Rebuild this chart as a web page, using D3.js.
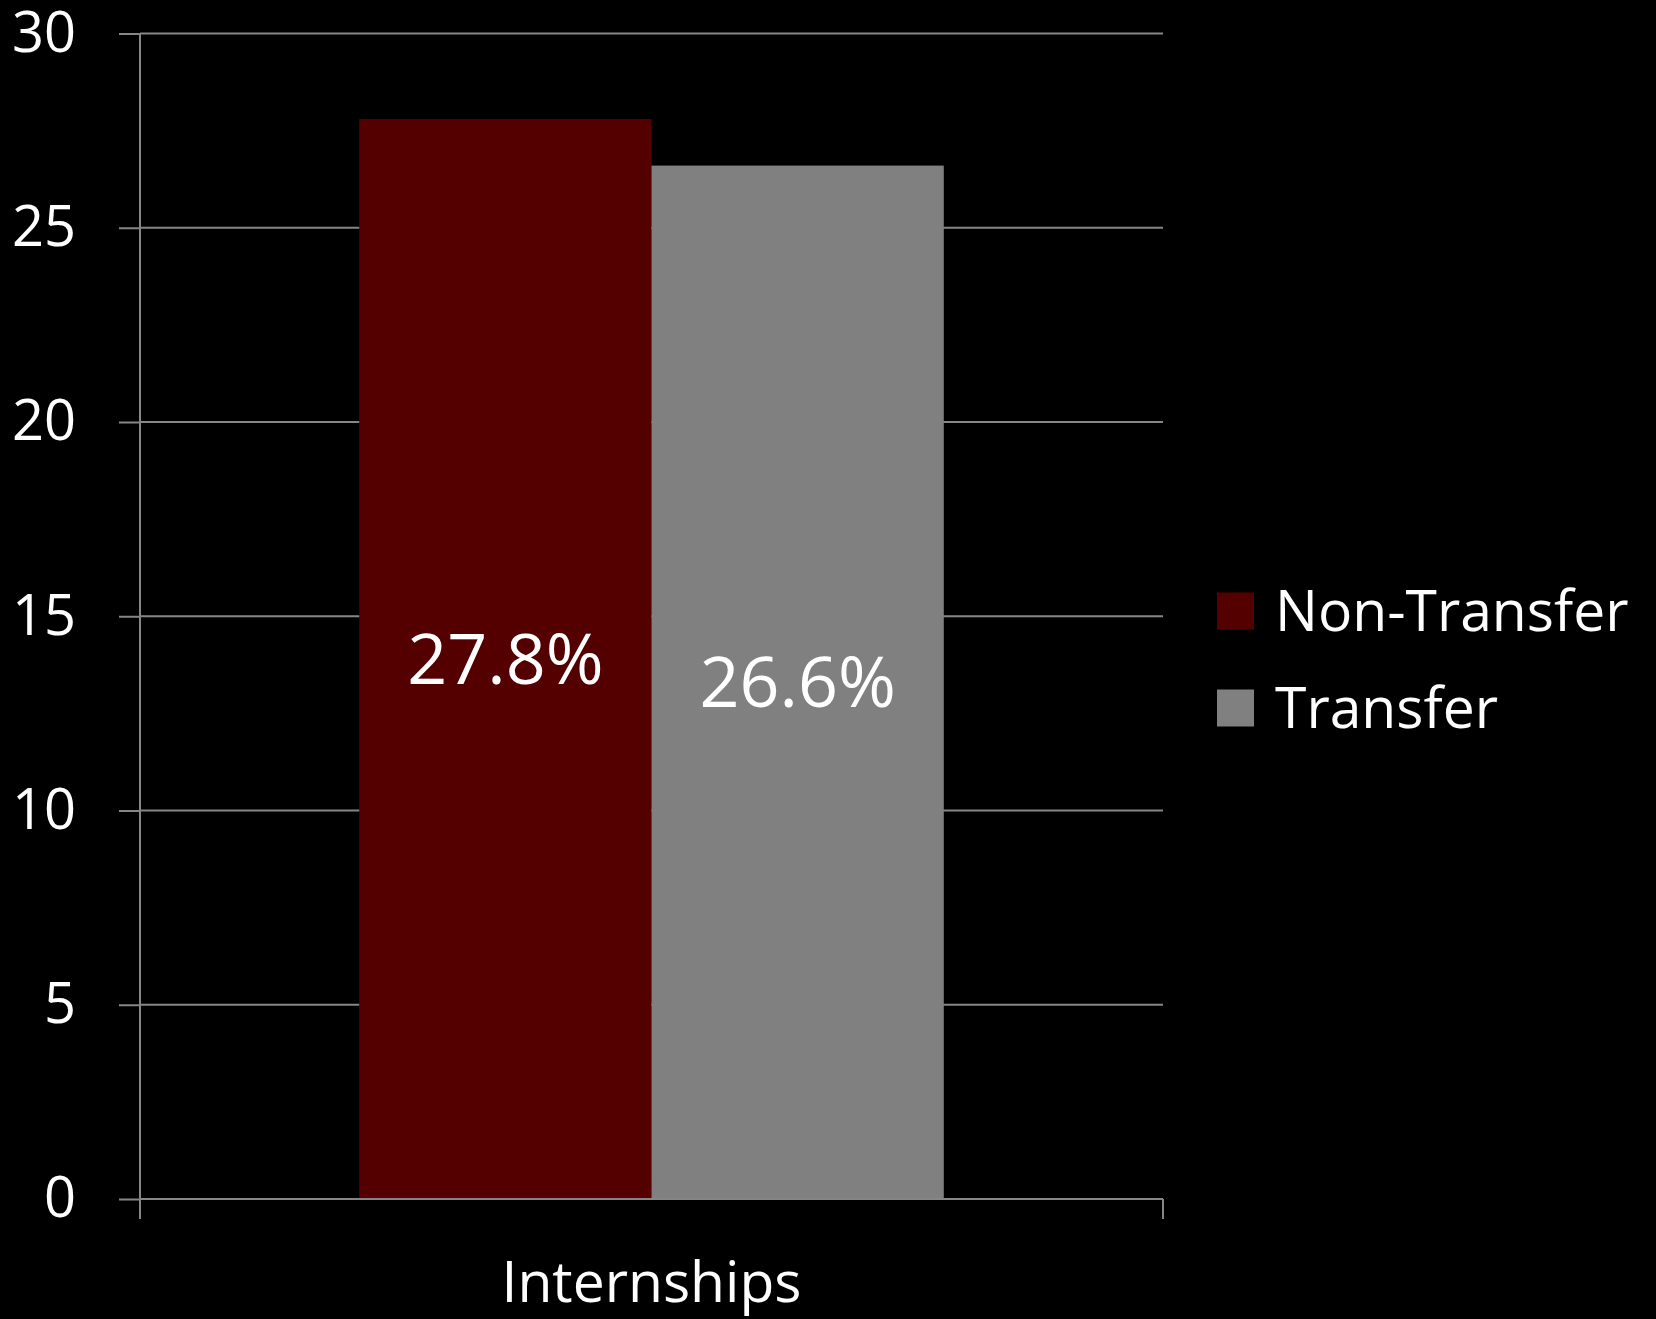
<!DOCTYPE html>
<meta charset="utf-8">
<style>
 body {
     margin: 0;
     background: #000;
     font-family: 'Open Sans', 'Noto Sans', sans-serif;
 }
 .grid line {
     stroke: #868686;
     stroke-width: 2;
 }
 .axis path,
 .axis line {
     fill: none;
     stroke: #868686;
     stroke-width: 2;
 }
 .axis text {
     fill: #fff;
 }
</style>
<body>
<script src="https://cdn.jsdelivr.net/npm/d3@7"></script>
<script>

 var categories = ["Internships"];
 var seriesNames = ["Non-Transfer", "Transfer"];
 var seriesValues = [27.8, 26.6];
 var valueLabels = ["27.8%", "26.6%"];
 var seriesColors = ["#550000", "#808080"];
 var yTicks = [0, 5, 10, 15, 20, 25, 30];

 var margin = {top: 33.5, right: 493, bottom: 120, left: 140},
     width = 1656 - margin.left - margin.right,
     height = 1319 - margin.top - margin.bottom;

 var svg = d3.select("body").append("svg")
             .attr("width", 1656)
             .attr("height", 1319)
             .append("g")
             .attr("transform", "translate(" + margin.left + "," + margin.top + ")");

 var yScale = d3.scaleLinear()
                .domain([0, 30])
                .range([height, 0]);

 var x0 = d3.scaleBand()
            .domain(categories)
            .range([0, width])
            .padding(0);

 // gap width 150% -> outer padding of 0.75 bar on each side
 var x1 = d3.scaleBand()
            .domain(seriesNames)
            .range([0, x0.bandwidth()])
            .paddingInner(0)
            .paddingOuter(0.75);

 // gridlines
 svg.append("g")
    .attr("class", "grid")
    .selectAll("line")
    .data(yTicks)
    .enter()
    .append("line")
    .attr("x1", 0)
    .attr("x2", width)
    .attr("y1", d => yScale(d))
    .attr("y2", d => yScale(d));

 // bars
 var rows = seriesNames.map((s, i) => ({name: s, value: seriesValues[i], label: valueLabels[i], color: seriesColors[i]}));

 var group = svg.append("g")
                .attr("transform", "translate(" + x0(categories[0]) + ",0)");

 group.selectAll("rect")
      .data(rows)
      .enter()
      .append("rect")
      .attr("x", d => x1(d.name))
      .attr("y", d => yScale(d.value))
      .attr("width", x1.bandwidth())
      .attr("height", d => height - yScale(d.value))
      .attr("fill", d => d.color);

 group.selectAll(".value-label")
      .data(rows)
      .enter()
      .append("text")
      .attr("class", "value-label")
      .attr("x", d => x1(d.name) + x1.bandwidth() / 2)
      .attr("y", d => (yScale(d.value) + height) / 2)
      .attr("dy", "0.36em")
      .attr("text-anchor", "middle")
      .attr("fill", "#fff")
      .attr("font-size", "70px")
      .text(d => d.label);

 // y axis
 var yAxis = d3.axisLeft(yScale)
               .tickValues(yTicks)
               .tickSize(21)
               .tickPadding(43);

 svg.append("g")
    .attr("class", "axis")
    .call(yAxis)
    .call(g => g.select(".domain").attr("d", "M0,0V" + (height + 20)))
    .selectAll("text")
    .attr("font-size", "56px")
    .attr("font-family", "'Open Sans', sans-serif");

 // x axis: category boundary ticks
 var xAxisG = svg.append("g")
                 .attr("class", "axis")
                 .attr("transform", "translate(0," + height + ")");

 xAxisG.append("path")
       .attr("d", "M0,0H" + width);

 var bounds = [0].concat(categories.map(c => x0(c) + x0.bandwidth()));
 xAxisG.selectAll(".btick")
       .data(bounds)
       .enter()
       .append("line")
       .attr("class", "btick")
       .attr("x1", d => d)
       .attr("x2", d => d)
       .attr("y1", 0)
       .attr("y2", 20);

 xAxisG.selectAll(".cat-label")
       .data(categories)
       .enter()
       .append("text")
       .attr("class", "cat-label")
       .attr("x", d => x0(d) + x0.bandwidth() / 2)
       .attr("y", 103)
       .attr("text-anchor", "middle")
       .attr("font-size", "57px")
       .text(d => d);

 // legend
 var legend = svg.append("g")
                 .attr("transform", "translate(" + (width + 54) + ",559)");

 var item = legend.selectAll("g")
                  .data(rows)
                  .enter()
                  .append("g")
                  .attr("transform", (d, i) => "translate(0," + (i * 97) + ")");

 item.append("rect")
     .attr("width", 37)
     .attr("height", 37)
     .attr("fill", d => d.color);

 item.append("text")
     .attr("x", 58)
     .attr("y", 38)
     .attr("fill", "#fff")
     .attr("font-size", "57px")
     .text(d => d.name);

</script>
